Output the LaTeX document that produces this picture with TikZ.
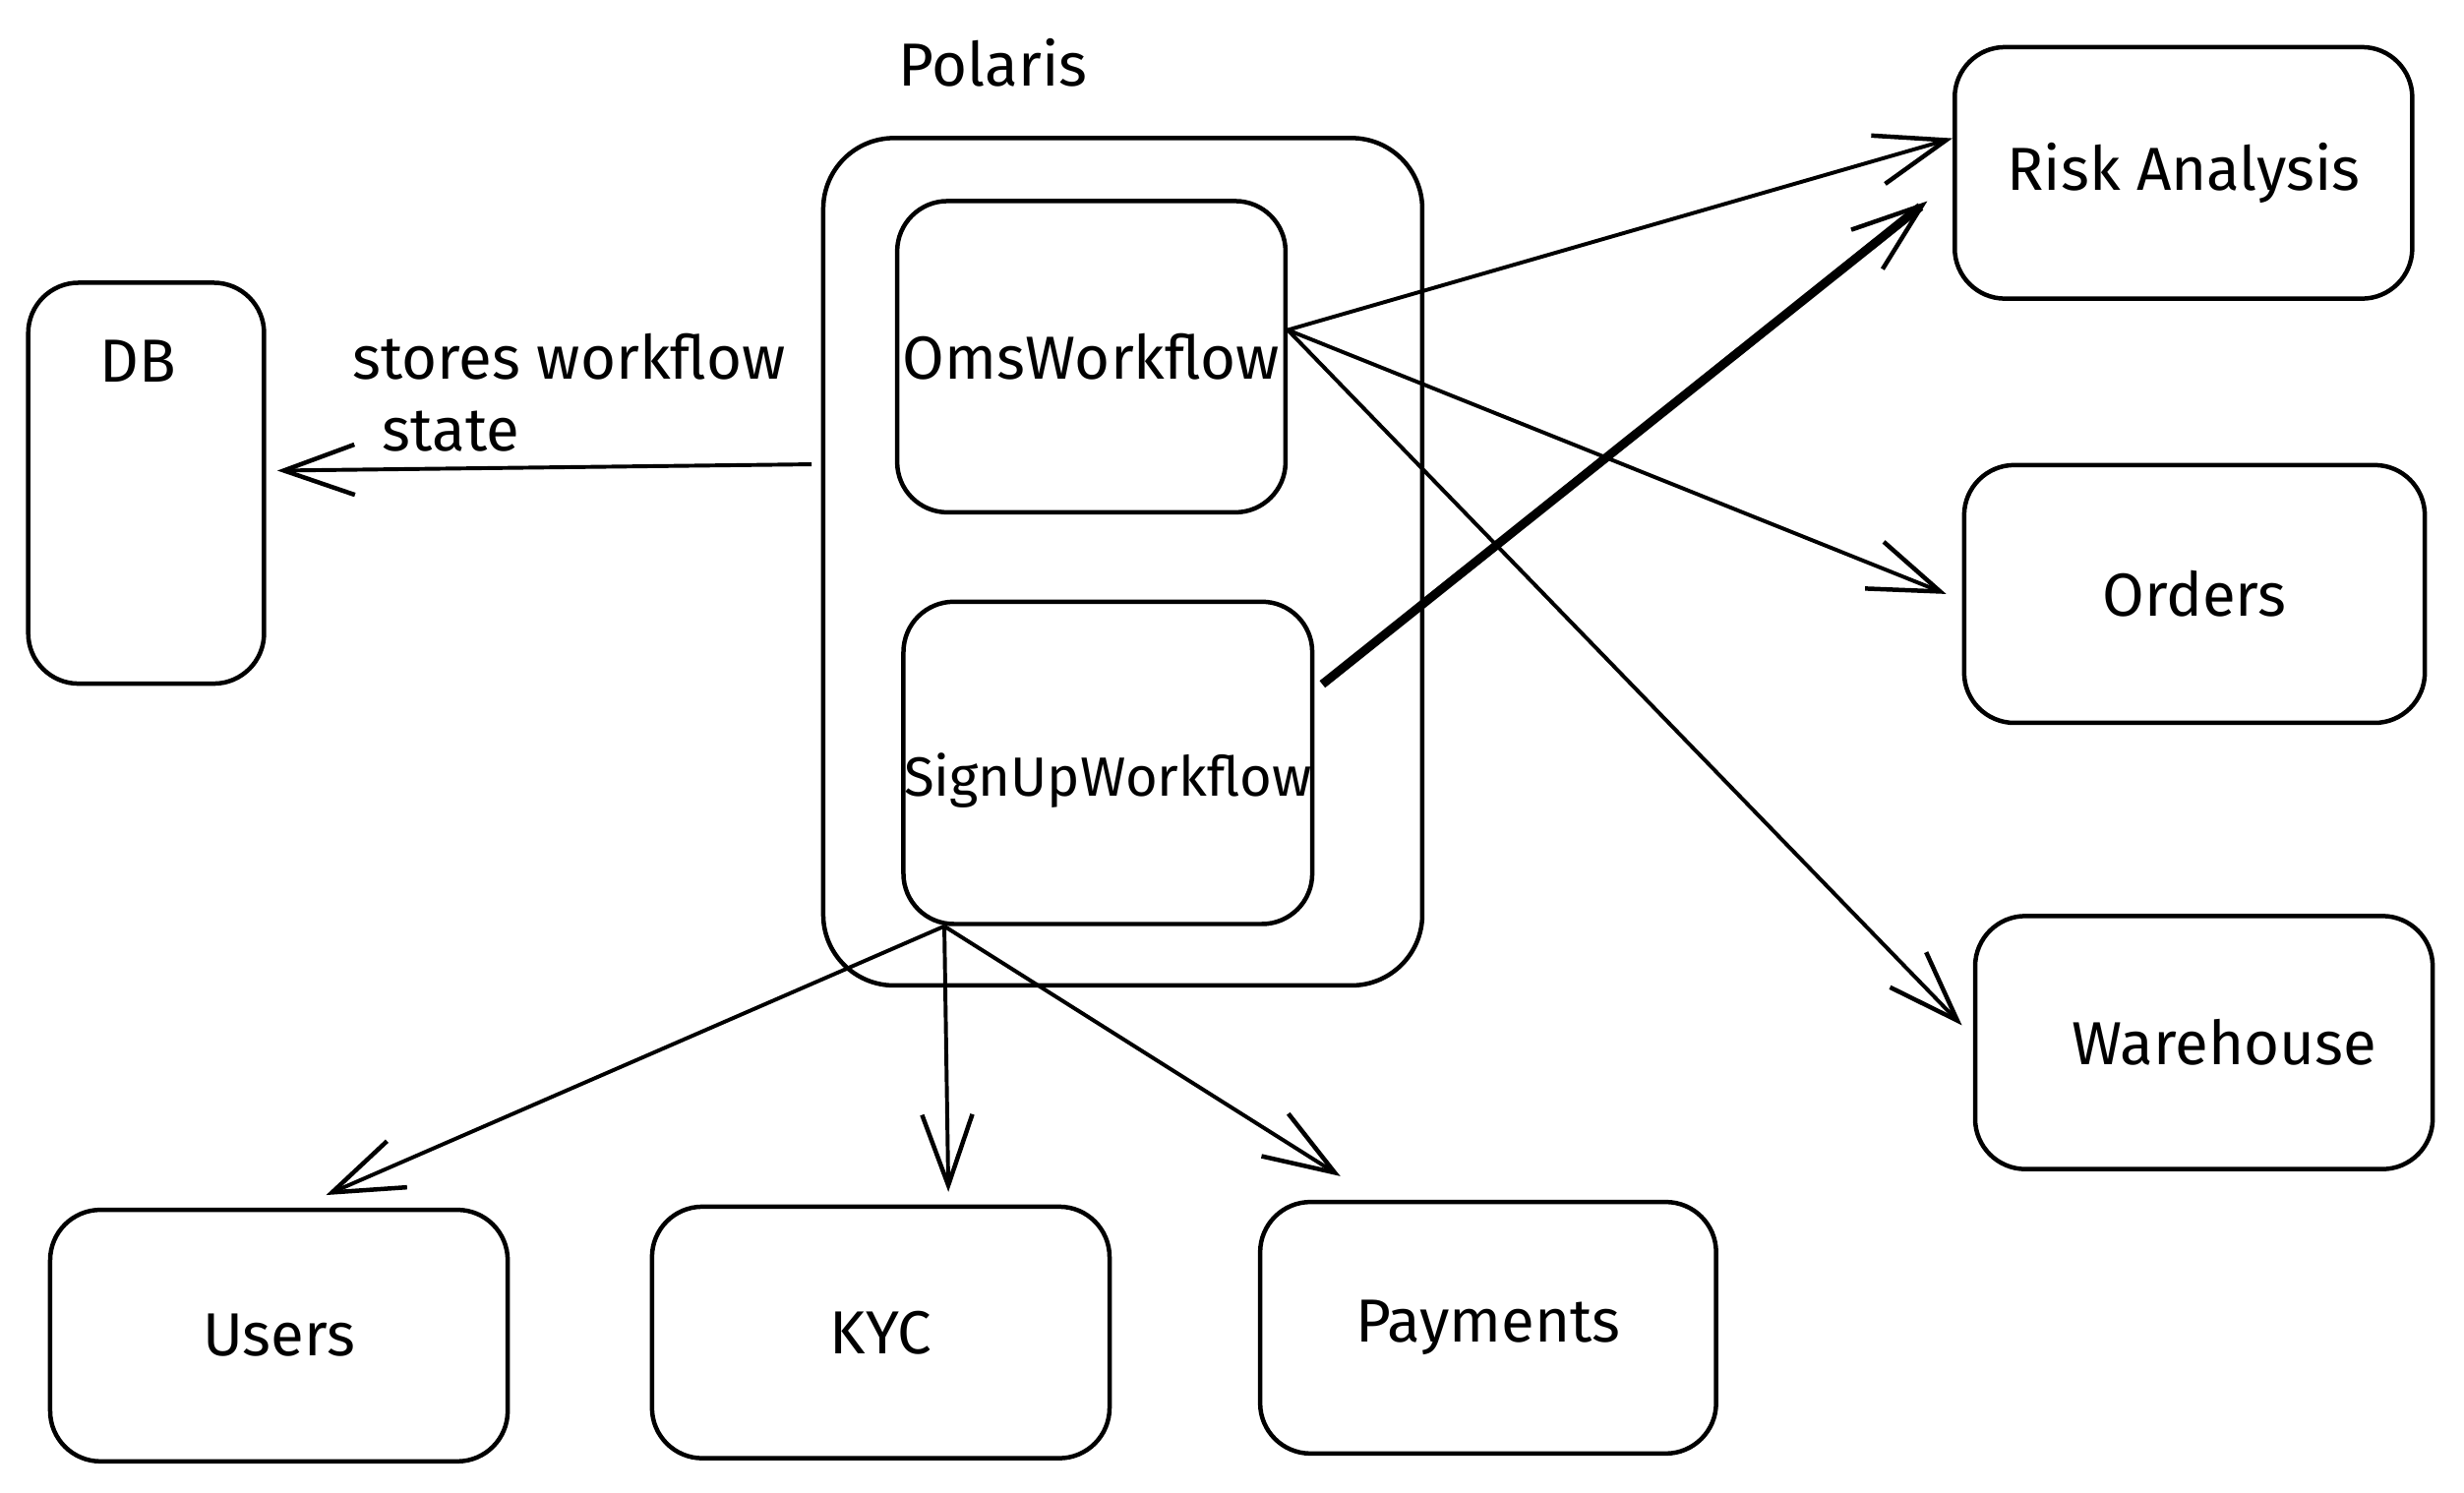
\documentclass[tikz,border=0pt]{standalone}
\usepackage{fontspec}
\setmainfont{Fira Sans}
\usetikzlibrary{arrows.meta}
\tikzset{
  box/.style={draw,rounded corners=0.32cm,line width=0.8pt,inner sep=0pt},
  bigbox/.style={box,rounded corners=0.45cm},
  lbl/.style={font=\fontsize{11}{13}\selectfont},
  conn/.style={line width=0.7pt,-{Straight Barb[length=4.5mm,width=3.2mm,line width=0.8pt]}},
}
\begin{document}
\begin{tikzpicture}[x=0.01cm,y=-0.01cm,line join=bevel,]
        \useasboundingbox (0,0) rectangle (1568,950);
        %%
        \node (node_title) at (632,40) [lbl] {Polaris};
        \node (node_polaris) at (714.5,357.5) [bigbox,minimum width=3.81cm,minimum height=5.39cm] {};
        \node (node_oms) at (694.5,227) [box,lbl,minimum width=2.47cm,minimum height=1.98cm] {\makebox[0pt]{OmsWorkflow}};
        \node (node_signup) at (705,485.5) [box,lbl,minimum width=2.6cm,minimum height=2.05cm] {\makebox[0pt]{\raisebox{-0.21cm}[0pt][0pt]{\fontsize{10}{12}\selectfont SignUpWorkflow}}};
        \node (node_db) at (93,307.5) [box,minimum width=1.5cm,minimum height=2.55cm] {};
        \node (node_dbtext) at (88,230) [lbl] {DB};
        \node (node_note) at (212,250) [lbl,anchor=west,align=left] {stores workflow\\\hspace{0.19cm}state};
        \node (node_risk) at (1389.5,110) [box,lbl,minimum width=2.91cm,minimum height=1.6cm] {Risk Analysis};
        \node (node_orders) at (1396.5,378) [box,lbl,minimum width=2.93cm,minimum height=1.64cm] {Orders};
        \node (node_warehouse) at (1402.5,663.5) [box,lbl,minimum width=2.91cm,minimum height=1.61cm] {\hspace{0.26cm}Warehouse};
        \node (node_users) at (177.5,850) [box,lbl,minimum width=2.91cm,minimum height=1.6cm] {Users};
        \node (node_kyc) at (560.5,848) [box,lbl,minimum width=2.91cm,minimum height=1.6cm] {KYC};
        \node (node_payments) at (947,845) [box,lbl,minimum width=2.9cm,minimum height=1.6cm] {Payments};
        %
        \coordinate (oms_out) at ([yshift=0.17cm]node_oms.east);
        \coordinate (signup_out) at ([xshift=-1.04cm]node_signup.south);
        %
        \draw [conn] ([xshift=-0.06cm,yshift=0.62cm]node_polaris.west) -- ([xshift=0.07cm,yshift=0.08cm]node_db.east);
        \draw [conn] (oms_out) -- ([yshift=0.22cm]node_risk.west);
        \draw [conn] (oms_out) -- ([xshift=-0.1cm]node_orders.west);
        \draw [conn] (oms_out) -- ([xshift=-0.07cm,yshift=0.11cm]node_warehouse.west);
        \draw [conn,line width=1.6pt] ([xshift=0.05cm,yshift=0.5cm]node_signup.east) -- ([xshift=-0.16cm,yshift=-0.18cm]node_risk.west);
        \draw [conn] (signup_out) -- ([xshift=0.3cm,yshift=0.08cm]node_users.north);
        \draw [conn] (signup_out) -- ([xshift=0.43cm,yshift=0.08cm]node_kyc.north);
        \draw [conn] (signup_out) -- ([xshift=-0.94cm,yshift=0.15cm]node_payments.north);
        %
        \end{tikzpicture}
\end{document}
